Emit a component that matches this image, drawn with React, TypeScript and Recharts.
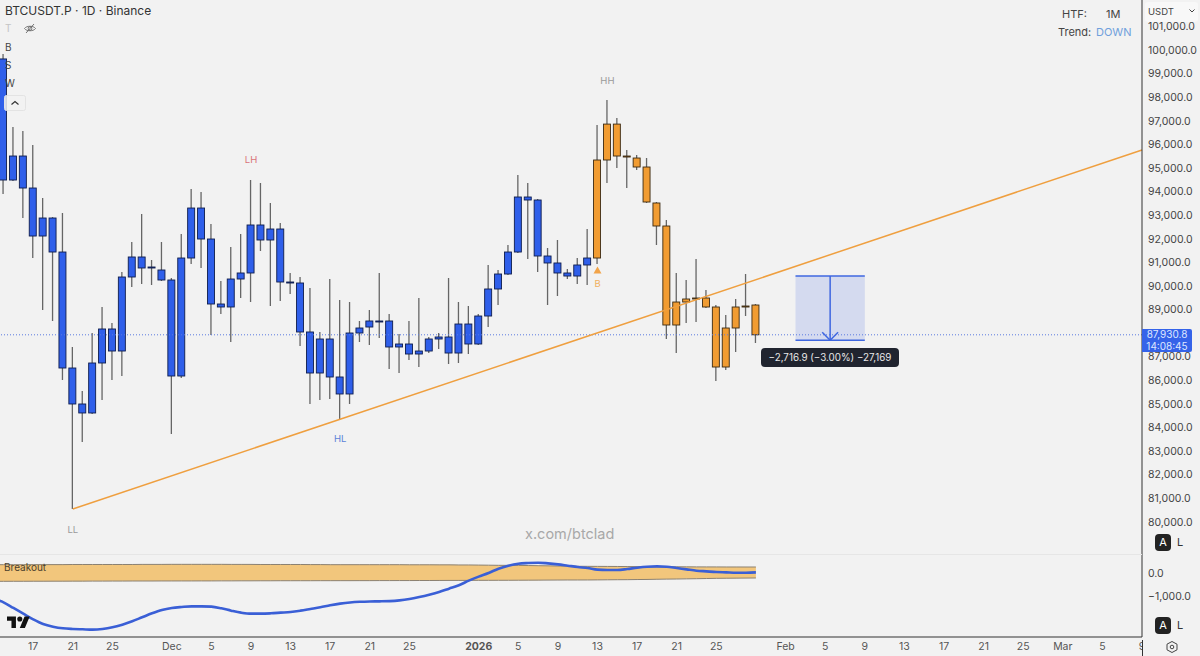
import {
  Area,
  Bar,
  ComposedChart,
  Line,
  ReferenceArea,
  ReferenceDot,
  ReferenceLine,
  XAxis,
  YAxis,
} from "recharts";

// daily candles, first one is 14 Nov, day 48 is 1 Jan 2026
const opens = [
  99620, 94490, 95507, 94151, 92117, 92880, 91439, 86524, 84999, 84618, 86736, 88177, 87244, 90380, 91228, 90762,
  90677, 90253, 86185, 91185, 93303, 91990, 89236, 89109, 90295, 90550, 92584, 91948, 92414, 90168, 90126, 88050,
  86312, 87753, 86143, 85423, 88007, 88261, 88516, 88516, 87414, 87541, 87117, 87244, 87753, 87838, 87159, 88388,
  87541, 88727, 89872, 90507, 91439, 93770, 93643, 91270, 90974, 90550, 90422, 90889, 91185, 95338, 96860, 95507,
  95422, 95041, 93516, 92541, 88346, 89320, 89448, 89490, 89109, 86566, 88219, 89109, 89193,
];
const closes = [
  94490, 95507, 94151, 92117, 92880, 91439, 86524, 84999, 84618, 86736, 88177, 87244, 90380, 91228, 90762, 90804,
  90253, 86185, 91185, 93303, 91990, 89236, 89109, 90295, 90550, 92584, 91948, 92414, 90168, 90126, 88050, 86312,
  87753, 86143, 85423, 88007, 88219, 88516, 88500, 87414, 87541, 87117, 87244, 87753, 87838, 87159, 88388, 87541,
  88727, 89872, 90507, 91439, 93770, 93643, 91270, 90974, 90550, 90422, 90889, 91185, 95338, 96860, 95507, 95465,
  95041, 93558, 92541, 88346, 89320, 89448, 89490, 89109, 86566, 88219, 89109, 89151, 87930.8,
];
const highs = [
  99830, 96735, 96566, 95973, 93727, 92920, 93092, 87414, 85550, 88007, 89109, 88431, 90592, 91863, 93050, 91100,
  91863, 90337, 92202, 94109, 93982, 92626, 90211, 91651, 92202, 94490, 94363, 93516, 92668, 90550, 90380, 89914,
  88050, 90295, 89405, 89320, 88516, 88981, 90550, 88812, 87965, 88516, 89490, 87838, 88007, 90337, 89320, 89151,
  88812, 90889, 90677, 91736, 94702, 94363, 93685, 91609, 91948, 90719, 91185, 92414, 96820, 97880, 97120, 95760,
  95550, 95422, 93558, 92795, 90550, 90253, 91143, 89829, 89193, 88769, 89448, 90507, 89236,
];
const lows = [
  93897, 94450, 92880, 91185, 88981, 88516, 86016, 80549, 83388, 84575, 85168, 86016, 86185, 89956, 90083, 90041,
  90211, 83727, 86100, 90931, 90762, 87922, 88812, 87626, 89490, 89320, 91482, 89151, 89363, 89660, 87456, 84999,
  85168, 85211, 84363, 84999, 87626, 87498, 87795, 86482, 86312, 86863, 86566, 87159, 87329, 86693, 86736, 87117,
  87498, 88261, 89193, 90465, 91397, 91143, 90592, 89193, 89575, 90295, 90083, 90041, 90931, 94363, 94999, 94151,
  94914, 93516, 91736, 87753, 87159, 88431, 88473, 89066, 85973, 86439, 87202, 88727, 87583,
];

// indicator pane, starts one day earlier so the curve runs off the left edge
const macd = [
  -1130, -1275, -1521, -1768, -2014, -2217, -2333, -2405, -2434, -2449, -2463, -2434, -2362, -2246, -2101, -1927,
  -1753, -1608, -1521, -1478, -1449, -1449, -1463, -1536, -1637, -1724, -1768, -1768, -1753, -1724, -1695, -1637,
  -1565, -1492, -1406, -1333, -1280, -1250, -1236, -1232, -1222, -1190, -1130, -1043, -942, -826, -681, -536, -333,
  -159, 0, 188, 319, 406, 435, 449, 420, 377, 319, 261, 217, 145, 130, 130, 174, 232, 275, 290, 275, 217, 159, 101,
  72, 43, 29, 14, 14, 29,
];
const bandUpper = [
  362, 362, 362, 362, 365, 365, 365, 365, 370, 370, 370, 370, 370, 370, 370, 374, 374, 374, 377, 377, 377, 377, 377,
  377, 374, 374, 374, 370, 370, 370, 370, 370, 366, 366, 362, 362, 362, 362, 362, 362, 362, 362, 358, 358, 358, 355,
  355, 350, 350, 345, 340, 335, 333, 330, 325, 318, 312, 304, 298, 292, 290, 288, 286, 284, 280, 278, 275, 274, 272,
  270, 268, 266, 265, 264, 262, 262, 261, 261,
];
const bandLower = [
  -362, -362, -360, -360, -358, -358, -356, -356, -354, -354, -352, -352, -350, -350, -348, -348, -348, -346, -346,
  -345, -345, -344, -344, -342, -342, -340, -340, -338, -338, -336, -336, -335, -335, -334, -334, -333, -333, -332,
  -332, -330, -330, -328, -328, -326, -326, -324, -322, -322, -320, -319, -318, -317, -316, -314, -312, -310, -308,
  -306, -304, -304, -303, -300, -296, -292, -290, -284, -280, -272, -266, -261, -254, -248, -240, -232, -228, -224,
  -220, -217,
];

const tickDays = [3, 7, 11, 17, 21, 25, 29, 33, 37, 41, 48, 52, 56, 60, 64, 68, 72, 79, 83, 87, 91, 95, 99, 103, 107, 111, 115];
const tickLabels = ["17", "21", "25", "Dec", "5", "9", "13", "17", "21", "25", "2026", "5", "9", "13", "17", "21", "25", "Feb", "5", "9", "13", "17", "21", "25", "Mar", "5", "9"];
const priceTicks = [80000, 81000, 82000, 83000, 84000, 85000, 86000, 87000, 89000, 90000, 91000, 92000, 93000, 94000, 95000, 96000, 97000, 98000, 99000, 100000, 101000];

const lastPrice = 87930.8;
const firstOrangeDay = 60;
const measureDays = [80, 87];
const measureTop = 90420;
const measureBottom = 87703;
const trendDays = [7, 115];
const trendPrices = [80549, 95762];

const pivots = [
  { day: 7, price: 79660, text: "LL", color: "#9a9a9a" },
  { day: 25, price: 95338, text: "LH", color: "#d9727a" },
  { day: 34, price: 83516, text: "HL", color: "#5b82d8" },
  { day: 61, price: 98685, text: "HH", color: "#9a9a9a" },
  { day: 60, price: 90083, text: "B", color: "#f0b060" },
];

const candles = opens.map((open, i) => ({ day: i, open, close: closes[i], high: highs[i], low: lows[i] }));
const indicator = macd.map((value, i) => ({ day: i - 1, value, upper: bandUpper[i], lower: bandLower[i], band: [bandLower[i], bandUpper[i]] }));

const xDomain: [number, number] = [-0.354, 115];
const FONT = "Inter, Roboto, sans-serif";

function Candle(props: any) {
  const { x, y, width, height, payload } = props;
  if (!payload) return null;
  const perUnit = height / (payload.high - payload.low);
  const yAt = (price: number) => y + (payload.high - price) * perUnit;
  const top = yAt(Math.max(payload.open, payload.close));
  const bottom = yAt(Math.min(payload.open, payload.close));
  const orange = payload.day >= firstOrangeDay;
  const mid = x + width / 2;
  return (
    <g>
      <line x1={mid} x2={mid} y1={y} y2={y + height} stroke="#666" strokeWidth={1.3} />
      <rect
        x={x}
        y={top}
        width={width}
        height={Math.max(bottom - top, 1)}
        fill={orange ? "#f19c32" : "#2f5fea"}
        stroke={orange ? "#3b2a12" : "#0f1d4d"}
        strokeWidth={0.9}
      />
    </g>
  );
}

function Triangle(props: any) {
  const { cx, cy } = props;
  return <path d={`M${cx - 4} ${cy + 3.5}L${cx} ${cy - 3.5}L${cx + 4} ${cy + 3.5}Z`} fill="#f2a44a" />;
}

function DayTick(props: any) {
  const { x, y, payload } = props;
  const label = tickLabels[tickDays.indexOf(payload.value)];
  return (
    <text x={x} y={y + 11} textAnchor="middle" fontSize={10.5} fontFamily={FONT} fill="#555" fontWeight={label === "2026" ? 700 : 400}>
      {label}
    </text>
  );
}

function Overlay({ left, top, style, children }: any) {
  return <div style={{ position: "absolute", left, top, whiteSpace: "nowrap", ...style }}>{children}</div>;
}

function ScaleButtons({ top }: { top: number }) {
  return (
    <>
      <Overlay left={1155} top={top} style={{ width: 16, height: 17, lineHeight: "17px", background: "#222", color: "#fff", borderRadius: 4, textAlign: "center", fontSize: 11 }}>
        A
      </Overlay>
      <Overlay left={1177} top={top} style={{ lineHeight: "17px", fontSize: 11, color: "#333" }}>
        L
      </Overlay>
    </>
  );
}

export default function App() {
  const trendSegment = [
    { x: trendDays[0], y: trendPrices[0] },
    { x: trendDays[1], y: trendPrices[1] },
  ];
  const arrowX = (measureDays[0] + measureDays[1]) / 2;

  return (
    <div style={{ position: "absolute", left: 0, top: 0, width: 1200, height: 656, overflow: "hidden", background: "#f2f2f2", fontFamily: FONT }}>
      <div style={{ position: "absolute", left: 0, top: 0 }}>
        <ComposedChart width={1200} height={555} data={candles} margin={{ top: 0, right: 0, bottom: 0, left: 0 }}>
          <XAxis dataKey="day" type="number" domain={xDomain} allowDataOverflow hide />
          <YAxis
            orientation="right"
            width={58}
            domain={[78600, 102118]}
            ticks={priceTicks}
            interval={0}
            tickSize={0}
            tickMargin={6}
            tick={{ fill: "#444", fontSize: 10.5, fontFamily: FONT, textAnchor: "start" }}
            axisLine={{ stroke: "#333" }}
            tickLine={false}
            tickFormatter={(v: number) => v.toLocaleString("en-US", { minimumFractionDigits: 1 })}
          />
          <ReferenceArea x1={measureDays[0]} x2={measureDays[1]} y1={measureBottom} y2={measureTop} fill="#3f67e0" fillOpacity={0.17} stroke="none" />
          <ReferenceLine y={lastPrice} stroke="#5a7be0" strokeDasharray="1 2" strokeWidth={1} />
          <ReferenceLine segment={trendSegment} stroke="#ef9f3f" strokeWidth={1.5} />
          <Bar dataKey={(d: any) => [d.low, d.high]} barSize={7} shape={Candle} isAnimationActive={false} />
          <ReferenceLine segment={[{ x: measureDays[0], y: measureTop }, { x: measureDays[1], y: measureTop }]} stroke="#3f67e0" strokeWidth={1.5} />
          <ReferenceLine segment={[{ x: measureDays[0], y: measureBottom }, { x: measureDays[1], y: measureBottom }]} stroke="#3f67e0" strokeWidth={1.5} />
          <ReferenceLine segment={[{ x: arrowX, y: measureTop }, { x: arrowX, y: measureBottom }]} stroke="#3f67e0" strokeWidth={1.5} />
          <ReferenceLine segment={[{ x: arrowX - 0.8, y: measureBottom + 340 }, { x: arrowX, y: measureBottom }]} stroke="#3f67e0" strokeWidth={1.5} />
          <ReferenceLine segment={[{ x: arrowX + 0.8, y: measureBottom + 340 }, { x: arrowX, y: measureBottom }]} stroke="#3f67e0" strokeWidth={1.5} />
          <ReferenceDot x={firstOrangeDay} y={90677} shape={Triangle} />
          {pivots.map((p) => (
            <ReferenceDot
              key={p.text}
              x={p.day}
              y={p.price}
              r={0}
              fill="none"
              stroke="none"
              label={{ value: p.text, position: "center", fill: p.color, fontSize: 9.5, fontFamily: FONT }}
            />
          ))}
        </ComposedChart>
      </div>

      <div style={{ position: "absolute", left: 0, top: 555 }}>
        <ComposedChart width={1200} height={101} data={indicator} margin={{ top: 0, right: 0, bottom: 0, left: 0 }}>
          <XAxis
            dataKey="day"
            type="number"
            domain={xDomain}
            allowDataOverflow
            ticks={tickDays}
            interval={0}
            height={19}
            tickSize={0}
            tickLine={false}
            axisLine={{ stroke: "#333" }}
            tick={DayTick}
          />
          <YAxis
            orientation="right"
            width={58}
            domain={[-2783, 783]}
            ticks={[-1000, 0]}
            interval={0}
            tickSize={0}
            tickMargin={6}
            tick={{ fill: "#444", fontSize: 10.5, fontFamily: FONT, textAnchor: "start" }}
            axisLine={{ stroke: "#333" }}
            tickLine={false}
            tickFormatter={(v: number) => (v === 0 ? "0.0" : "\u22121,000.0")}
          />
          <Area dataKey="band" type="monotone" stroke="none" fill="#f2c67c" fillOpacity={1} isAnimationActive={false} dot={false} activeDot={false} />
          <Line dataKey="upper" type="monotone" stroke="#8b8172" strokeWidth={1} dot={false} activeDot={false} isAnimationActive={false} />
          <Line dataKey="lower" type="monotone" stroke="#8b8172" strokeWidth={1} dot={false} activeDot={false} isAnimationActive={false} />
          <Line dataKey="value" type="monotone" stroke="#3a5fd6" strokeWidth={2.6} dot={false} activeDot={false} isAnimationActive={false} />
        </ComposedChart>
      </div>

      {/* TradingView-style chrome around the panes */}
      <div style={{ position: "absolute", left: 0, top: 554, width: 1142, height: 1, background: "#e6e6e6" }} />
      <Overlay left={5} top={3} style={{ fontSize: 12, lineHeight: "16px", color: "#333" }}>
        BTCUSDT.P · 1D · Binance
      </Overlay>
      <Overlay left={5} top={22} style={{ fontSize: 10, color: "#c4c4c4" }}>T</Overlay>
      <svg style={{ position: "absolute", left: 23, top: 22 }} width={14} height={13} viewBox="0 0 14 13" fill="none" stroke="#666" strokeWidth={0.9}>
        <path d="M1.5 6.5C3.5 3.5 10.5 3.5 12.5 6.5C10.5 9.5 3.5 9.5 1.5 6.5Z" />
        <circle cx={7} cy={6.5} r={1.8} />
        <path d="M3 11L11 2" />
      </svg>
      <Overlay left={5} top={41} style={{ fontSize: 10, color: "#444" }}>B</Overlay>
      <Overlay left={5} top={59} style={{ fontSize: 10, color: "#444" }}>S</Overlay>
      <Overlay left={5} top={77} style={{ fontSize: 10, color: "#444" }}>W</Overlay>
      <svg style={{ position: "absolute", left: 4, top: 95 }} width={22} height={16} viewBox="0 0 22 16" fill="none">
        <rect x={0.5} y={0.5} width={21} height={15} rx={2} fill="#f2f2f2" fillOpacity={0.85} stroke="#e3e3e3" />
        <path d="M7.5 9.5L11 6.5L14.5 9.5" stroke="#333" strokeWidth={1.2} />
      </svg>

      <Overlay left={1062} top={7} style={{ fontSize: 11, lineHeight: "15px", color: "#444" }}>HTF:</Overlay>
      <Overlay left={1106} top={7} style={{ fontSize: 11, lineHeight: "15px", color: "#444" }}>1M</Overlay>
      <Overlay left={1058} top={25} style={{ fontSize: 11, lineHeight: "15px", color: "#444" }}>Trend:</Overlay>
      <Overlay left={1096} top={25} style={{ fontSize: 11, lineHeight: "15px", color: "#6fa0dc" }}>DOWN</Overlay>

      <Overlay left={1145} top={2} style={{ width: 53, height: 20, lineHeight: "19px", background: "#f8f8f8", borderRadius: 3, fontSize: 9.5, color: "#444", textIndent: 3 }}>
        USDT
      </Overlay>
      <svg style={{ position: "absolute", left: 1189, top: 9 }} width={6} height={4} viewBox="0 0 6 4" fill="none">
        <path d="M0.5 0.5L3 3L5.5 0.5" stroke="#444" strokeWidth={1} />
      </svg>

      <Overlay left={1142} top={329} style={{ width: 50, height: 23, background: "#3563e9", color: "#dfe7ff", borderRadius: "0 2px 2px 0", fontSize: 10, lineHeight: "11.5px", textAlign: "center" }}>
        87,930.8
        <br />
        14:08:45
      </Overlay>

      <Overlay left={761} top={348} style={{ width: 138, height: 19, lineHeight: "19px", background: "#20242f", color: "#e8e8e8", borderRadius: 4, fontSize: 9.8, textAlign: "center" }}>
        −2,716.9 (−3.00%) −27,169
      </Overlay>

      <Overlay left={525} top={525} style={{ fontSize: 14.5, lineHeight: "18px", color: "#a8a8a8" }}>x.com/btclad</Overlay>
      <Overlay left={4} top={560} style={{ fontSize: 10, lineHeight: "14px", color: "#4b3f2c" }}>Breakout</Overlay>

      <svg style={{ position: "absolute", left: 7, top: 615 }} width={23} height={13} viewBox="0 0 36 20">
        <path d="M14 20H7V9H0V2h14v18zM28 20h-8l7.5-18h8L28 20z" fill="#111" />
        <circle cx={20} cy={6} r={4} fill="#111" />
      </svg>

      <ScaleButtons top={534} />
      <ScaleButtons top={617} />
      <svg style={{ position: "absolute", left: 1165, top: 640 }} width={14} height={14} viewBox="0 0 14 14" fill="none" stroke="#444" strokeWidth={1}>
        <path d="M7 1.5L12 4.2V9.8L7 12.5L2 9.8V4.2Z" />
        <circle cx={7} cy={7} r={1.8} />
      </svg>
      <div style={{ position: "absolute", left: 1142, top: 640, width: 12, height: 16, background: "#f2f2f2", borderLeft: "1px solid #333" }} />
    </div>
  );
}
